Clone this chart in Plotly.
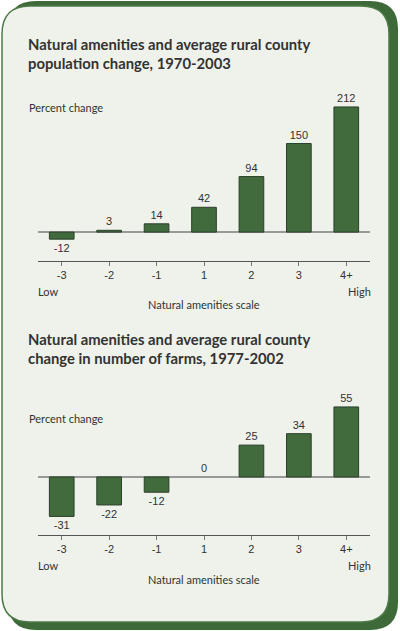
import plotly.graph_objects as go

scale_labels = ["-3", "-2", "-1", "1", "2", "3", "4+"]
pop_change = [-12, 3, 14, 42, 94, 150, 212]
farm_change = [-31, -22, -12, 0, 25, 34, 55]

W, H = 400, 631
BAR = "#416b3d"
EDGE = "#2b3f29"
TXT = "#333333"


def py(px):
    return 1 - px / H


def rrect(x0, y0, x1, y1, r):
    # rounded rectangle path in pixel coords -> paper coords
    fx = lambda v: v / W
    fy = lambda v: 1 - v / H
    rx, ry = r / W, r / H
    return (f"M{fx(x0)+rx},{fy(y0)} L{fx(x1)-rx},{fy(y0)} Q{fx(x1)},{fy(y0)} {fx(x1)},{fy(y0)-ry} "
            f"L{fx(x1)},{fy(y1)+ry} Q{fx(x1)},{fy(y1)} {fx(x1)-rx},{fy(y1)} "
            f"L{fx(x0)+rx},{fy(y1)} Q{fx(x0)},{fy(y1)} {fx(x0)},{fy(y1)+ry} "
            f"L{fx(x0)},{fy(y0)-ry} Q{fx(x0)},{fy(y0)} {fx(x0)+rx},{fy(y0)} Z")


fig = go.Figure()

for vals, xa, ya in [(pop_change, "x", "y"), (farm_change, "x2", "y2")]:
    fig.add_trace(go.Bar(
        x=scale_labels, y=vals, xaxis=xa, yaxis=ya,
        marker=dict(color=BAR, line=dict(color=EDGE, width=[0 if v == 0 else 1 for v in vals])),
        width=0.52,
        text=[str(v) for v in vals], textposition="outside",
        textfont=dict(family="Liberation Sans", size=11, color=TXT),
        cliponaxis=False, showlegend=False, hoverinfo="skip",
    ))

axis_common = dict(
    type="category", range=[-0.5, 6.5], showline=True, linecolor="#555555",
    linewidth=1, ticks="outside", ticklen=4, tickcolor="#777777",
    tickfont=dict(family="Liberation Sans", size=11, color=TXT),
    showgrid=False, fixedrange=True,
)
yaxis_common = dict(
    showgrid=False, showticklabels=False, zeroline=True,
    zerolinecolor="#999999", zerolinewidth=1.5, fixedrange=True,
)

shapes = [
    dict(type="path", xref="paper", yref="paper", path=rrect(8, 1, 398, 630, 28),
         fillcolor="#3d6a38", line=dict(width=0), layer="below"),
    dict(type="path", xref="paper", yref="paper", path=rrect(2, 6, 389, 622, 28),
         fillcolor="#eef2eb", line=dict(color="#4e7a48", width=1.5), layer="below"),
]

annotations = []
titles = [
    (53, "Natural amenities and average rural county<br>population change, 1970-2003", 107, 291, 304),
    (348, "Natural amenities and average rural county<br>change in number of farms, 1977-2002", 418, 565, 579),
]
for ty, t, pcy, lowy, axy in titles:
    annotations.append(dict(xref="paper", yref="paper", x=26 / W, y=py(ty), xanchor="left",
                            yanchor="middle", align="left", showarrow=False, text=f"<b>{t}</b>",
                            font=dict(family="Lato", size=14.8, color=TXT)))
    annotations.append(dict(xref="paper", yref="paper", x=27 / W, y=py(pcy), xanchor="left",
                            yanchor="middle", showarrow=False, text="Percent change",
                            font=dict(family="Lato", size=11, color=TXT)))
    annotations.append(dict(xref="paper", yref="paper", x=36 / W, y=py(lowy), xanchor="left",
                            yanchor="middle", showarrow=False, text="Low",
                            font=dict(family="Lato", size=11, color=TXT)))
    annotations.append(dict(xref="paper", yref="paper", x=373 / W, y=py(lowy), xanchor="right",
                            yanchor="middle", showarrow=False, text="High",
                            font=dict(family="Lato", size=11, color=TXT)))
    annotations.append(dict(xref="paper", yref="paper", x=204 / W, y=py(axy), xanchor="center",
                            yanchor="middle", showarrow=False, text="Natural amenities scale",
                            font=dict(family="Lato", size=11, color=TXT)))

fig.update_layout(
    width=W, height=H, margin=dict(l=0, r=0, t=0, b=0),
    paper_bgcolor="white", plot_bgcolor="rgba(0,0,0,0)",
    xaxis=dict(axis_common, domain=[38 / W, 370 / W], anchor="y"),
    yaxis=dict(yaxis_common, domain=[py(261), py(90)], range=[-49, 240.7]),
    xaxis2=dict(axis_common, domain=[38 / W, 370 / W], anchor="y2"),
    yaxis2=dict(yaxis_common, domain=[py(535), py(390)], range=[-45.6, 68.3]),
    shapes=shapes, annotations=annotations, bargap=0.48,
)

fig.write_html("out.html", config={"displayModeBar": False},
               post_script="document.body.style.margin='0';")
